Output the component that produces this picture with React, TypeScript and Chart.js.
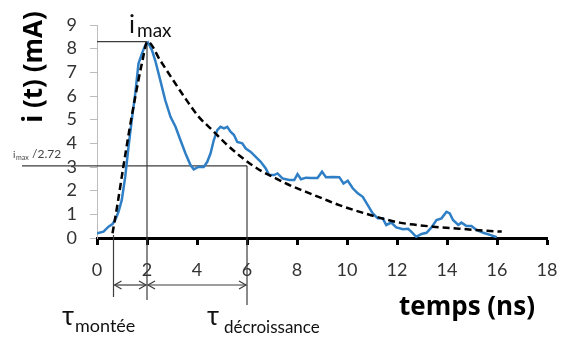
import React, { useEffect, useRef } from "react";
import { Chart, registerables } from "chart.js";

Chart.register(...registerables);

// Measured current (blue)
const tMeasured = [0, 0.26, 0.46, 0.62, 0.73, 0.86, 0.99, 1.13, 1.26, 1.39, 1.53, 1.66, 1.8, 1.93, 2.04, 2.2, 2.33, 2.53, 2.73, 2.94, 3.14, 3.34, 3.54, 3.74, 3.87, 4.07, 4.27, 4.41, 4.54, 4.67, 4.81, 4.94, 5.08, 5.21, 5.34, 5.48, 5.61, 5.81, 5.95, 6.15, 6.35, 6.55, 6.75, 6.88, 7.08, 7.22, 7.42, 7.69, 7.89, 8.02, 8.16, 8.36, 8.56, 8.82, 9.0, 9.16, 9.43, 9.69, 9.86, 10.03, 10.23, 10.43, 10.63, 10.83, 11.03, 11.23, 11.43, 11.57, 11.77, 11.97, 12.24, 12.44, 12.57, 12.77, 12.98, 13.18, 13.38, 13.58, 13.78, 13.98, 14.11, 14.24, 14.45, 14.58, 14.78, 14.98, 15.18, 15.45, 15.72, 15.99];
const iMeasured = [0.2, 0.27, 0.48, 0.59, 0.76, 1.11, 1.6, 2.59, 3.85, 4.98, 6.1, 7.37, 7.8, 8.14, 8.26, 7.93, 7.5, 6.67, 5.82, 5.12, 4.7, 4.13, 3.57, 3.08, 2.9, 3.01, 3.0, 3.22, 3.57, 4.13, 4.56, 4.7, 4.63, 4.7, 4.49, 4.35, 4.06, 4.0, 3.78, 3.64, 3.43, 3.22, 2.94, 2.66, 2.66, 2.73, 2.52, 2.45, 2.45, 2.7, 2.48, 2.55, 2.54, 2.54, 2.8, 2.57, 2.58, 2.57, 2.3, 2.42, 2.1, 1.89, 1.74, 1.39, 1.04, 0.83, 0.83, 0.55, 0.65, 0.45, 0.37, 0.39, 0.27, 0.05, 0.17, 0.22, 0.45, 0.76, 0.83, 1.11, 1.04, 0.76, 0.55, 0.65, 0.51, 0.51, 0.34, 0.22, 0.13, 0.03];

// Model (dashed)
const tModel = [0.62, 0.8, 1.06, 1.3, 1.53, 1.8, 2.02, 2.53, 3.0, 3.54, 4.07, 4.61, 5.14, 5.68, 6.15, 6.62, 7.15, 7.69, 8.36, 9.02, 9.69, 10.37, 10.9, 11.5, 12.1, 12.8, 13.44, 14.1, 14.78, 15.5, 16.19];
const iModel = [0.2, 1.3, 3.05, 4.6, 5.96, 7.4, 8.3, 7.5, 6.74, 5.89, 5.12, 4.56, 4.0, 3.5, 3.12, 2.8, 2.52, 2.24, 1.95, 1.67, 1.39, 1.15, 0.98, 0.8, 0.65, 0.55, 0.48, 0.42, 0.37, 0.31, 0.27];

// Axis ticks
const xTicks = [0, 2, 4, 6, 8, 10, 12, 14, 16, 18];
const yTicks = [0, 1, 2, 3, 4, 5, 6, 7, 8, 9];

// Annotation values
const I_MAX = 8.3;
const T_START = 0.66;
const T_PEAK = 2;
const T_DECAY = 6;

const FONT = "Lato, 'Open Sans', sans-serif";
const BOLD_FONT = "'Open Sans', Lato, sans-serif";

const annotPlugin = {
  id: "annot",
  beforeDatasetsDraw(chart: any) {
    const { ctx, scales, chartArea } = chart;
    const x = scales.x, y = scales.y;
    const b = chartArea.bottom;
    const px = (v: number) => x.getPixelForValue(v);
    const py = (v: number) => y.getPixelForValue(v);
    const line = (x1: number, y1: number, x2: number, y2: number) => {
      ctx.beginPath();
      ctx.moveTo(x1, y1);
      ctx.lineTo(x2, y2);
      ctx.stroke();
    };
    ctx.save();
    ctx.strokeStyle = "#3c3c3c";
    ctx.lineWidth = 1.2;
    line(px(0), py(I_MAX), px(T_PEAK), py(I_MAX));
    line(px(T_PEAK), py(I_MAX), px(T_PEAK), b + 62);
    line(22, py(I_MAX / 2.72), px(T_DECAY), py(I_MAX / 2.72));
    line(px(T_DECAY), py(I_MAX / 2.72), px(T_DECAY), b + 67);
    line(px(T_START), b - 3, px(T_START), b + 59);
    ctx.restore();
  },
  afterDraw(chart: any) {
    const { ctx, scales, chartArea } = chart;
    const x = scales.x;
    const b = chartArea.bottom;
    const px = (v: number) => x.getPixelForValue(v);
    const line = (x1: number, y1: number, x2: number, y2: number) => {
      ctx.beginPath();
      ctx.moveTo(x1, y1);
      ctx.lineTo(x2, y2);
      ctx.stroke();
    };
    const head = (tx: number, ty: number, dir: number) => {
      ctx.beginPath();
      ctx.moveTo(tx - dir * 7, ty - 4);
      ctx.lineTo(tx, ty);
      ctx.lineTo(tx - dir * 7, ty + 4);
      ctx.stroke();
    };
    ctx.save();
    ctx.strokeStyle = "#3c3c3c";
    ctx.lineWidth = 1.2;
    const ay = b + 47;
    const a0 = px(T_START) + 1, a1 = px(T_PEAK) - 1, a2 = px(T_PEAK) + 1, a3 = px(T_DECAY) - 1;
    line(a0, ay, a1, ay);
    head(a0, ay, -1);
    head(a1, ay, 1);
    line(a2, ay, a3, ay);
    head(a2, ay, -1);
    head(a3, ay, 1);

    ctx.fillStyle = "#111";
    ctx.textBaseline = "alphabetic";
    ctx.textAlign = "left";
    // i_max label
    ctx.font = `25px ${FONT}`;
    ctx.fillText("i", 129, 33);
    ctx.font = `19px ${FONT}`;
    ctx.fillText("max", 137, 37);
    // i_max/2.72 label
    ctx.fillStyle = "#444";
    ctx.font = `10px ${FONT}`;
    ctx.fillText("i", 13, 158);
    ctx.font = `7px ${FONT}`;
    ctx.fillText("max", 16, 160);
    ctx.font = `12px ${FONT}`;
    ctx.fillText("/2.72", 32, 158);
    // tau labels
    ctx.fillStyle = "#111";
    ctx.font = `26px ${FONT}`;
    ctx.fillText("τ", 62, 325);
    ctx.font = `18px ${FONT}`;
    ctx.fillText("montée", 75, 332);
    ctx.font = `26px ${FONT}`;
    ctx.fillText("τ", 207, 325);
    ctx.font = `17px ${FONT}`;
    ctx.fillText("décroissance", 224, 333);
    // axis titles
    ctx.fillStyle = "#000";
    ctx.font = `bold 26px ${BOLD_FONT}`;
    ctx.fillText("temps (ns)", 399, 315);
    ctx.save();
    ctx.translate(42, 67);
    ctx.rotate(-Math.PI / 2);
    ctx.textAlign = "center";
    ctx.fillText("i (t) (mA)", 0, 0);
    ctx.restore();
    ctx.restore();
  },
};

export default function App() {
  const ref = useRef<HTMLCanvasElement | null>(null);
  useEffect(() => {
    if (!ref.current) return;
    const chart = new Chart(ref.current, {
      type: "line",
      data: {
        datasets: [
          {
            label: "modèle",
            data: tModel.map((t, k) => ({ x: t, y: iModel[k] })),
            borderColor: "#000",
            borderWidth: 2.5,
            borderDash: [7, 4],
            pointRadius: 0,
            cubicInterpolationMode: "monotone",
            order: 0,
          },
          {
            label: "mesure",
            data: tMeasured.map((t, k) => ({ x: t, y: iMeasured[k] })),
            borderColor: "#2f7fc6",
            borderWidth: 2.5,
            pointRadius: 0,
            tension: 0,
            order: 1,
          },
        ],
      },
      options: {
        animation: false,
        responsive: false,
        maintainAspectRatio: false,
        layout: { padding: { left: 0, top: 25, right: 15, bottom: 0 } },
        plugins: { legend: { display: false }, tooltip: { enabled: false } },
        scales: {
          x: {
            type: "linear",
            min: 0,
            max: 18,
            afterBuildTicks: (s: any) => {
              s.ticks = xTicks.map((v) => ({ value: v }));
            },
            afterFit: (s: any) => {
              s.height = 99;
              s.paddingRight = 0;
              s.paddingLeft = 0;
            },
            border: { color: "#000", width: 3 },
            grid: { drawOnChartArea: false, drawTicks: true, tickLength: 7, tickWidth: 3, tickColor: "#000" },
            ticks: { color: "#333", font: { family: FONT, size: 18 }, padding: 14, maxRotation: 0, autoSkip: false },
          },
          y: {
            type: "linear",
            min: 0,
            max: 9,
            afterBuildTicks: (s: any) => {
              s.ticks = yTicks.map((v) => ({ value: v }));
            },
            afterFit: (s: any) => {
              s.width = 97;
              s.paddingTop = 0;
              s.paddingBottom = 0;
            },
            border: { color: "#bdbdbd", width: 1 },
            grid: { drawOnChartArea: false, drawTicks: true, tickLength: 7, tickColor: "#bdbdbd" },
            ticks: { color: "#333", font: { family: FONT, size: 18 }, padding: 13, autoSkip: false },
          },
        },
      },
      plugins: [annotPlugin],
    });
    return () => chart.destroy();
  }, []);
  return (
    <div style={{ position: "fixed", left: 0, top: 0, width: 562, height: 337, background: "#fff" }}>
      <canvas ref={ref} width={562} height={337} style={{ width: 562, height: 337 }} />
    </div>
  );
}
